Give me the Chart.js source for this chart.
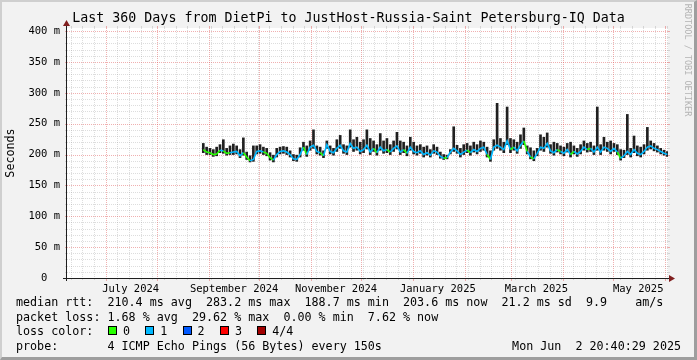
<!DOCTYPE html>
<html>
<head>
<meta charset="utf-8">
<script src="https://cdn.jsdelivr.net/npm/chart.js@4/dist/chart.umd.min.js"></script>
<style>
html,body{margin:0;padding:0;}
body{width:697px;height:360px;background:#f2f2f2;position:relative;overflow:hidden;font-family:"DejaVu Sans Mono",monospace;}
#frame{position:absolute;left:0;top:0;width:697px;height:360px;box-sizing:border-box;border-top:2px solid #cfcfcf;border-left:2px solid #cfcfcf;border-right:3px solid #9e9e9e;border-bottom:3px solid #9e9e9e;pointer-events:none;}
#c{position:absolute;left:0;top:0;}
.t{position:absolute;white-space:pre;color:#000;font-size:11.7px;line-height:14px;}
#title{position:absolute;left:0;width:697px;text-align:center;top:10px;font-size:13.3px;line-height:16px;white-space:pre;color:#000;}
#ylab{position:absolute;left:10px;top:153px;font-size:11.7px;line-height:14px;white-space:pre;transform:translate(-50%,-50%) rotate(-90deg);}
#wm{position:absolute;left:688px;top:60px;font-size:8.5px;line-height:10px;white-space:pre;color:#b4b4b4;transform:translate(-50%,-50%) rotate(90deg);}
.box{position:absolute;width:7px;height:7px;border:1px solid #000;}
</style>
</head>
<body>
<canvas id="c" width="697" height="360"></canvas>
<div id="frame"></div>
<div id="title">Last 360 Days from DietPi to JustHost-Russia-Saint Petersburg-IQ Data</div>
<div id="ylab">Seconds</div>
<div id="wm">RRDTOOL / TOBI OETIKER</div>
<div class="t" style="left:16px;top:295px;">median rtt:  210.4 ms avg  283.2 ms max  188.7 ms min  203.6 ms now  21.2 ms sd  9.9    am/s</div>
<div class="t" style="left:16px;top:310px;">packet loss: 1.68 % avg  29.62 % max  0.00 % min  7.62 % now</div>
<div class="t" style="left:16px;top:324px;">loss color:</div>
<div id="lossLegend"></div>
<div class="t" style="left:16px;top:339px;">probe:       4 ICMP Echo Pings (56 Bytes) every 150s</div>
<div class="t" style="right:16px;top:339px;">Mon Jun  2 20:40:29 2025</div>
<script>
// ---------------- data ----------------
const periodEndISO = '2025-06-02T20:40:29Z';
const periodDays = 360;
const sampleStartISO = '2024-08-28T12:00:00Z';
const sampleStepDays = 2;

const medianRtt = [
208,204,203,200,201,207,206,202,203,204,
205,198,203,196,190,192,205,206,204,202,
195,191,200,205,206,204,200,193,192,200,
212,200,212,215,205,203,198,216,205,203,
210,215,206,204,218,210,212,205,208,215,
204,210,203,212,206,208,204,210,214,204,
208,202,212,205,203,206,200,203,199,206,
204,197,194,195,204,210,206,200,204,207,
203,208,205,210,212,200,192,212,215,212,
208,222,208,212,206,215,222,205,196,193,
202,212,210,218,206,203,208,205,202,208,
200,205,201,205,212,208,210,204,212,204,
212,210,205,210,204,194,198,205,200,208,
202,200,205,212,214,210,208,205,202,200
];
const smokeHigh = [
218,212,210,208,212,216,224,210,214,217,
214,208,227,204,198,214,214,216,212,210,
203,199,210,212,213,212,206,200,199,211,
220,214,222,240,214,212,206,222,214,210,
224,231,216,214,240,224,228,220,224,240,
226,222,216,234,222,226,216,222,236,222,
220,214,228,220,214,216,212,214,208,216,
212,204,200,199,208,245,215,210,216,218,
214,220,216,222,220,212,206,224,283,226,
220,277,226,224,220,232,243,214,211,206,
210,232,228,235,216,220,218,214,212,218,
220,214,210,216,222,218,220,214,277,216,
228,220,222,218,216,208,207,265,210,230,
214,212,216,244,222,218,214,210,207,205
];
const smokeLow = [
203,200,200,197,198,203,202,199,200,200,
201,195,199,192,188,189,201,202,200,198,
191,188,196,201,202,200,196,190,189,196,
207,197,207,210,201,199,195,210,201,199,
205,210,202,200,212,205,207,201,203,209,
200,205,199,207,202,203,200,205,209,200,
203,198,207,201,199,202,196,199,196,202,
200,194,192,193,201,205,202,196,200,203,
199,204,201,205,207,196,189,207,210,207,
203,216,203,207,202,210,216,201,193,190,
198,207,205,212,202,199,204,201,198,204,
196,201,197,201,207,204,205,200,207,200,
207,205,201,205,200,191,195,200,196,203,
198,196,201,207,209,206,204,201,199,197
];
const lossLevel = [
1,0,0,0,0,0,1,0,0,1,
1,1,1,0,0,1,1,1,1,0,
0,0,1,1,1,1,1,1,1,1,
1,0,1,1,1,1,0,1,1,1,
1,1,1,1,1,1,1,1,1,1,
1,1,0,1,1,1,0,1,1,1,
1,0,1,1,1,1,1,1,1,1,
1,1,1,0,1,1,1,1,1,1,
0,1,1,1,1,1,0,1,1,1,
1,1,1,0,1,1,1,0,1,0,
1,1,1,1,1,1,1,0,1,1,
1,0,1,1,1,1,0,1,1,1,
1,1,1,1,1,0,1,1,1,1,
1,1,1,1,1,1,1,1,1,1
];
const lossColors = ['#26ff00','#00b8ff','#0059ff','#ff0000','#a10000'];
const lossNames = ['0','1','2','3','4/4'];

const xTickLabels = ['July 2024','September 2024','November 2024','January 2025','March 2025','May 2025'];
const xTickDates = ['2024-07-16','2024-09-16','2024-11-16','2025-01-16','2025-03-16','2025-05-16'];
const monthStartDates = ['2024-07-01','2024-08-01','2024-09-01','2024-10-01','2024-11-01','2024-12-01','2025-01-01','2025-02-01','2025-03-01','2025-04-01','2025-05-01','2025-06-01'];
const yMajorTicks = [0,50,100,150,200,250,300,350,400];
const yMinorStep = 10;

// ---------------- build ----------------
const DAY = 86400000;
const tEnd = Date.parse(periodEndISO);
const tStart = tEnd - periodDays*DAY;
const t0 = Date.parse(sampleStartISO);
const times = medianRtt.map((_, i) => t0 + i*sampleStepDays*DAY);
const xTickValues = xTickDates.map(d => Date.parse(d+'T00:00:00Z'));
const monthStarts = monthStartDates.map(d => Date.parse(d+'T00:00:00Z'));
const weekLines = [];
{ // Mondays
  let d = new Date(tStart); d.setUTCHours(0,0,0,0);
  while (d.getUTCDay() !== 1) d = new Date(d.getTime()+DAY);
  for (let t = d.getTime(); t <= tEnd; t += 7*DAY) weekLines.push(t);
}

// legend boxes
const ll = document.getElementById('lossLegend');
lossNames.forEach((n,i)=>{
  const b = document.createElement('div'); b.className='box';
  b.style.left=(108+i*37.3)+'px'; b.style.top='326px'; b.style.background=lossColors[i];
  ll.appendChild(b);
  const t = document.createElement('div'); t.className='t';
  t.style.left=(123+i*37.3)+'px'; t.style.top='324px'; t.textContent=n;
  ll.appendChild(t);
});

const MINOR = 'rgba(143,143,143,0.3)';
const MAJOR = 'rgba(222,79,79,0.45)';
const AXIS = '#1f1f1f';
const ARROW = '#801f1f';

function hline(ctx,x1,x2,y){ctx.beginPath();ctx.moveTo(x1,y);ctx.lineTo(x2,y);ctx.stroke();}
function vline(ctx,x,y1,y2){ctx.beginPath();ctx.moveTo(x,y1);ctx.lineTo(x,y2);ctx.stroke();}

const rrdPlugin = {
  id:'rrd',
  beforeDraw(chart){
    const {ctx, chartArea:a} = chart;
    ctx.save(); ctx.fillStyle='#ffffff';
    ctx.fillRect(a.left, a.top, a.right-a.left, a.bottom-a.top);
    ctx.restore();
  },
  beforeDatasetsDraw(chart){
    const {ctx, chartArea:a, scales:{x,y}} = chart;
    ctx.save(); ctx.lineWidth=1;
    const majorVals = new Set(yMajorTicks);
    for(let v=0; v<=400; v+=yMinorStep){
      if(majorVals.has(v)) continue;
      const py = Math.round(y.getPixelForValue(v))+0.5;
      ctx.strokeStyle=MINOR; ctx.setLineDash([]);
      hline(ctx,a.left-2,a.left,py); hline(ctx,a.right,a.right+2,py);
      ctx.setLineDash([1,1]); hline(ctx,a.left,a.right,py);
    }
    weekLines.forEach(t=>{
      if(monthStarts.some(m=>Math.abs(m-t)<DAY)) return;
      const px = Math.round(x.getPixelForValue(t))+0.5;
      if(px<a.left||px>a.right) return;
      ctx.strokeStyle=MINOR; ctx.setLineDash([]);
      vline(ctx,px,a.top-2,a.top); vline(ctx,px,a.bottom,a.bottom+2);
      ctx.setLineDash([1,1]); vline(ctx,px,a.top,a.bottom);
    });
    yMajorTicks.forEach(v=>{
      if(v===0) return;
      const py = Math.round(y.getPixelForValue(v))+0.5;
      ctx.strokeStyle=MAJOR; ctx.setLineDash([]);
      hline(ctx,a.left-2,a.left,py); hline(ctx,a.right,a.right+2,py);
      ctx.setLineDash([1,1]); hline(ctx,a.left,a.right,py);
    });
    monthStarts.forEach(t=>{
      const px = Math.round(x.getPixelForValue(t))+0.5;
      if(px<a.left||px>a.right) return;
      ctx.strokeStyle=MAJOR; ctx.setLineDash([]);
      vline(ctx,px,a.top-2,a.top); vline(ctx,px,a.bottom,a.bottom+3);
      ctx.setLineDash([1,1]); vline(ctx,px,a.top,a.bottom);
    });
    ctx.restore();
  },
  afterDatasetsDraw(chart){
    const {ctx, chartArea:a} = chart;
    ctx.save(); ctx.setLineDash([]); ctx.lineWidth=1; ctx.strokeStyle=AXIS;
    const ay = Math.round(a.bottom)+0.5, ax = Math.round(a.left)-0.5;
    hline(ctx,a.left-4,a.right+2,ay);
    vline(ctx,ax,a.bottom+3,a.top-3);
    ctx.fillStyle=ARROW;
    ctx.beginPath(); ctx.moveTo(a.right+1,ay-3.5); ctx.lineTo(a.right+7,ay); ctx.lineTo(a.right+1,ay+3.5); ctx.closePath(); ctx.fill();
    ctx.beginPath(); ctx.moveTo(ax-3.5,a.top-2); ctx.lineTo(ax,a.top-8); ctx.lineTo(ax+3.5,a.top-2); ctx.closePath(); ctx.fill();
    ctx.restore();
  }
};

const tickFont = {family:'"DejaVu Sans Mono", monospace', size:10.5};

new Chart(document.getElementById('c'), {
  type:'line',
  data:{
    datasets:[
      {
        type:'line',
        label:'median',
        data: times.map((t,i)=>({x:t, y:medianRtt[i]})),
        borderWidth:1.6,
        borderColor: lossColors[1],
        segment:{ borderColor: c => lossColors[lossLevel[c.p1DataIndex]] },
        pointRadius:0,
        tension:0,
        order:1
      },
      {
        type:'bar',
        label:'smoke',
        data: times.map((t,i)=>({x:t, y:[smokeLow[i], smokeHigh[i]]})),
        backgroundColor:'#202020',
        borderWidth:0,
        barThickness:2,
        order:2
      }
    ]
  },
  options:{
    responsive:false,
    animation:false,
    devicePixelRatio:1,
    layout:{padding:{left:0,right:29,top:28,bottom:0}},
    plugins:{legend:{display:false},tooltip:{enabled:false},title:{display:false}},
    scales:{
      x:{
        type:'linear', min:tStart, max:tEnd, offset:false,
        grid:{display:false, drawTicks:false},
        border:{display:false},
        afterFit(s){ s.height = 82; },
        afterBuildTicks(s){ s.ticks = xTickValues.map(v=>({value:v})); },
        ticks:{
          autoSkip:false, maxRotation:0, minRotation:0, padding:5,
          color:'#000', font:tickFont,
          callback:(v)=>{ const i = xTickValues.indexOf(v); return i>=0 ? xTickLabels[i] : ''; }
        }
      },
      y:{
        type:'linear', min:0, max:405,
        grid:{display:false, drawTicks:false},
        border:{display:false},
        afterFit(s){ s.width = 67; },
        afterBuildTicks(s){ s.ticks = yMajorTicks.map(v=>({value:v})); },
        ticks:{
          padding:7, color:'#000', font:tickFont,
          callback:(v)=> v===0 ? '0  ' : v+' m'
        }
      }
    }
  },
  plugins:[rrdPlugin]
});
</script>
</body>
</html>
